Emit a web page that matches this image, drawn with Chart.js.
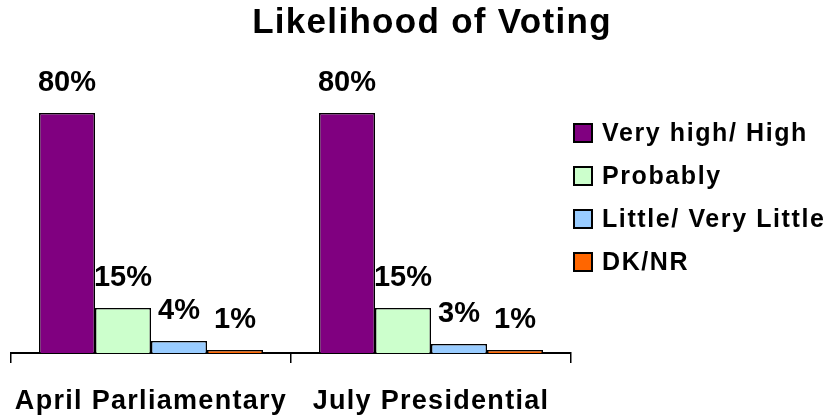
<!DOCTYPE html>
<html lang="en">
<head>
  <meta charset="UTF-8">
  <title>Likelihood of Voting</title>
  <script src="https://cdn.jsdelivr.net/npm/chart.js"></script>
  <style>
    body { margin: 0; background: #fff; }
    .wrap { position: relative; width: 836px; height: 420px; }
  </style>
</head>
<body>
  <div class="wrap"><canvas id="voting"></canvas></div>

  <script>
    // data
    const elections = ['April Parliamentary', 'July Presidential'];
    const answers = ['Very high/ High', 'Probably', 'Little/ Very Little', 'DK/NR'];
    const veryHigh = [80, 80];
    const probably = [15, 15];
    const little = [4, 3];
    const dknr = [1, 1];
    const colors = ['#800080', '#CCFFCC', '#99CCFF', '#FF6600'];
    const chartTitle = 'Likelihood of Voting';

    const font = '"Liberation Sans", Arial, sans-serif';

    // the original text is a bit wider than Arial, add some spacing
    const spacing = {
      id: 'spacing',
      beforeDraw(chart) {
        chart.ctx.letterSpacing = '1.3px';
      }
    };

    // percent labels on top of each bar
    const barLabels = {
      id: 'barLabels',
      afterDatasetsDraw(chart) {
        const ctx = chart.ctx;
        ctx.save();
        ctx.letterSpacing = '0px';
        ctx.font = 'bold 29px ' + font;
        ctx.fillStyle = '#000';
        ctx.textAlign = 'center';
        ctx.textBaseline = 'alphabetic';
        chart.data.datasets.forEach((ds, i) => {
          chart.getDatasetMeta(i).data.forEach((bar, j) => {
            ctx.fillText(ds.data[j] + '%', bar.x, bar.y - 22);
          });
        });
        ctx.restore();
      }
    };

    // title over the whole picture + legend on the right
    const titleAndLegend = {
      id: 'titleAndLegend',
      afterDraw(chart) {
        const ctx = chart.ctx;
        ctx.save();
        ctx.fillStyle = '#000';
        ctx.letterSpacing = '1.3px';
        ctx.font = 'bold 35px ' + font;
        ctx.textAlign = 'center';
        ctx.textBaseline = 'middle';
        ctx.fillText(chartTitle, 432, 23);

        ctx.letterSpacing = '1.6px';
        ctx.font = 'bold 25px ' + font;
        ctx.textAlign = 'left';
        chart.data.datasets.forEach((ds, i) => {
          const y = 133 + i * 43;
          ctx.fillStyle = ds.backgroundColor;
          ctx.fillRect(574, y - 9, 18, 18);
          ctx.strokeStyle = '#000';
          ctx.lineWidth = 2;
          ctx.strokeRect(574, y - 9, 18, 18);
          ctx.fillStyle = '#000';
          ctx.fillText(ds.label, 602, y + 1);
        });
        ctx.restore();
      }
    };

    const series = [veryHigh, probably, little, dknr];

    new Chart(document.getElementById('voting').getContext('2d'), {
      type: 'bar',
      data: {
        labels: elections,
        datasets: series.map((vals, i) => ({
          label: answers[i],
          data: vals,
          backgroundColor: colors[i],
          borderColor: '#000',
          borderWidth: 1.5,
          categoryPercentage: 0.8,
          barPercentage: 1
        }))
      },
      options: {
        responsive: true,
        maintainAspectRatio: false,
        animation: false,
        layout: { padding: { left: 11, right: 265, top: 83, bottom: 2 } },
        plugins: {
          legend: { display: false },
          tooltip: { enabled: false },
          title: { display: false }
        },
        scales: {
          x: {
            afterFit(scale) { scale.height = 65; },
            grid: {
              display: true,
              drawOnChartArea: false,
              offset: true,
              color: '#000',
              lineWidth: 1.5,
              tickLength: 10
            },
            border: { display: true, color: '#000', width: 2 },
            ticks: {
              color: '#000',
              padding: 22,
              maxRotation: 0,
              autoSkip: false,
              font: { family: font, size: 27, weight: 'bold' }
            }
          },
          y: {
            display: false,
            min: 0,
            max: 90
          }
        }
      },
      plugins: [spacing, barLabels, titleAndLegend]
    });
  </script>
</body>
</html>
